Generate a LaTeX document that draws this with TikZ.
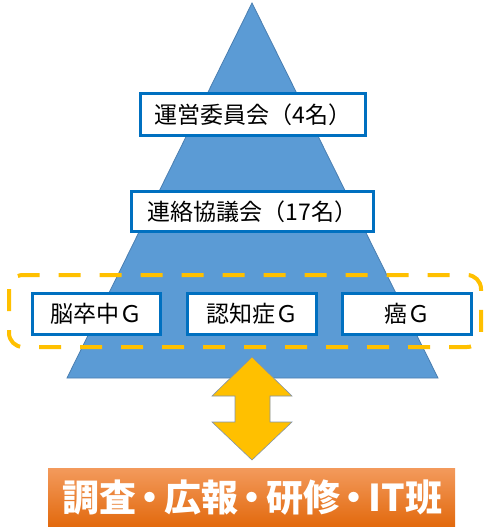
\documentclass[tikz,border=0pt]{standalone}
\usepackage{fontspec}
\newfontfamily\jp{Noto Sans CJK JP}
\definecolor{triblue}{HTML}{5B9BD5}
\definecolor{triedge}{HTML}{4A7EB0}
\definecolor{boxblue}{HTML}{0070C0}
\definecolor{gold}{HTML}{FFC000}
\definecolor{arrowedge}{HTML}{8093AD}
\definecolor{orangetop}{HTML}{F39A5C}
\definecolor{orangebot}{HTML}{E2690D}
\newcommand{\tdot}{\kern-0.12em・\kern-0.12em}
\tikzset{
  lbox/.style={draw=boxblue, line width=3pt, fill=white, inner sep=0pt,
    font=\jp\fontsize{23}{26}\selectfont, text=black},
}
\begin{document}
\begin{tikzpicture}[x=1pt,y=-1pt]
\useasboundingbox (0,0) rectangle (486,527);
% pyramid
\draw[fill=triblue, draw=triedge, line width=0.8pt] (252,3) -- (438,378) -- (67,378) -- cycle;
% top boxes
\node[lbox, minimum width=225pt, minimum height=42pt] (unei) at (253,114.5) {運営委員会（4名）};
\node[lbox, minimum width=242pt, minimum height=40pt] (renraku) at (252.5,211.5) {連絡協議会（17名）};
% group boxes
\node[lbox, minimum width=128pt, minimum height=41pt] (nou) at (96.5,314) {脳卒中Ｇ};
\node[lbox, minimum width=129pt, minimum height=41pt] (nin) at (252,314) {認知症Ｇ};
\node[lbox, minimum width=129pt, minimum height=41pt] (gan) at (407,314) {癌Ｇ};
% dashed group frame
\draw[gold, line width=4pt, dash pattern=on 22pt off 19pt, rounded corners=14pt] (9,275) rectangle (481,347);
% double arrow
\coordinate (atop) at (252,357);
\coordinate (abot) at (252,460);
\draw[fill=gold, draw=arrowedge, line width=0.6pt]
  (atop) -- (292,396) -- (270,396) -- (270,422) -- (292,422) -- (abot)
  -- (212,422) -- (235,422) -- (235,396) -- (212,396) -- cycle;
% orange bar
\shade[top color=orangetop, bottom color=orangebot] (48,468) rectangle (455,527);
\node[font=\jp\bfseries\fontsize{37}{40}\selectfont, text=white, inner sep=0pt] (team) at (252,498) {調査\tdot 広報\tdot 研修\tdot IT班};
\end{tikzpicture}
\end{document}
